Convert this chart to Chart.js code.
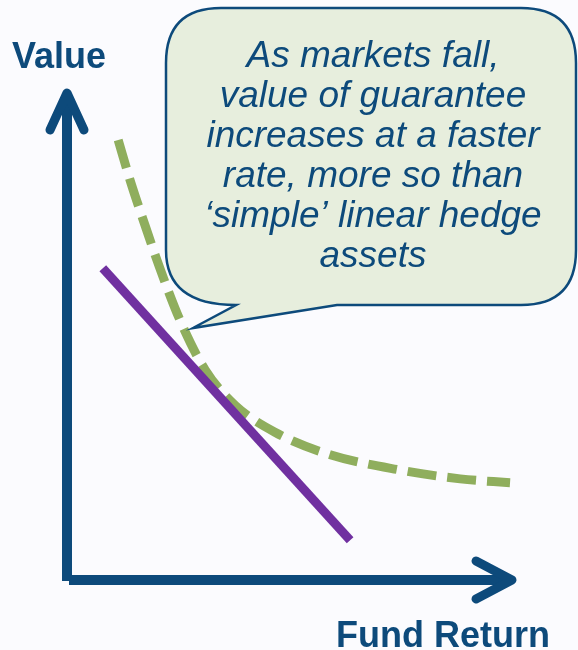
<!DOCTYPE html>
<html>
<head>
<meta charset="utf-8">
<script src="https://cdn.jsdelivr.net/npm/chart.js@4"></script>
<style>
  html, body { margin: 0; padding: 0; background: #fbfbfe; }
  #wrap { width: 578px; height: 650px; }
</style>
</head>
<body>
<div id="wrap"><canvas id="chartHedge" width="578" height="650"></canvas></div>
<script>
// Fund return (x) vs value (y), arbitrary units 0..10
const guaranteeX = [1.13, 1.39, 1.72, 2.05, 2.49, 3.05, 3.71, 4.59, 5.81, 7.35, 8.68, 9.78];
const guaranteeY = [8.96, 8.15, 7.23, 6.35, 5.30, 4.28, 3.56, 3.01, 2.55, 2.24, 2.06, 1.98];
const hedgeX = [0.79, 6.25];
const hedgeY = [6.35, 0.81];
const axisTitles = ["Value", "Fund Return"];
const calloutLines = [
  "As markets fall,",
  "value of guarantee",
  "increases at a faster",
  "rate, more so than",
  "\u2018simple\u2019 linear hedge",
  "assets"
];

const navy = "#0d4a7b";
const toPoints = (xs, ys) => xs.map((x, i) => ({ x: x, y: ys[i] }));

// axes with arrow heads, axis titles and the speech bubble
const decor = {
  id: "decor",
  beforeDatasetsDraw(chart) {
    const ctx = chart.ctx;
    const a = chart.chartArea;
    ctx.save();
    ctx.strokeStyle = navy;
    ctx.lineWidth = 10;
    ctx.lineCap = "butt";
    ctx.beginPath();
    ctx.moveTo(a.left, a.bottom + 1);
    ctx.lineTo(a.left, a.top + 6);
    ctx.moveTo(a.left + 2, a.bottom);
    ctx.lineTo(a.right - 8, a.bottom);
    ctx.stroke();

    ctx.lineCap = "round";
    ctx.lineJoin = "round";
    ctx.lineWidth = 9;
    ctx.beginPath();
    ctx.moveTo(a.left - 17, a.top + 41);
    ctx.lineTo(a.left, a.top + 4);
    ctx.lineTo(a.left + 17, a.top + 41);
    ctx.moveTo(a.right - 44, a.bottom - 19);
    ctx.lineTo(a.right - 8, a.bottom);
    ctx.lineTo(a.right - 44, a.bottom + 19);
    ctx.stroke();

    ctx.fillStyle = navy;
    ctx.font = "bold 36px 'Liberation Sans', Arial, sans-serif";
    ctx.textAlign = "left";
    ctx.textBaseline = "alphabetic";
    ctx.fillText(axisTitles[0], 12, 68);
    ctx.fillText(axisTitles[1], 336, 647);
    ctx.restore();
  },
  afterDatasetsDraw(chart) {
    const ctx = chart.ctx;
    const l = 166, t = 8, r = 576, b = 305, rad = 55;
    ctx.save();
    ctx.beginPath();
    ctx.moveTo(l + rad, t);
    ctx.lineTo(r - rad, t);
    ctx.quadraticCurveTo(r, t, r, t + rad);
    ctx.lineTo(r, b - rad);
    ctx.quadraticCurveTo(r, b, r - rad, b);
    ctx.lineTo(337, b);
    ctx.lineTo(193, 328);
    ctx.lineTo(236, b);
    ctx.quadraticCurveTo(l, b, l, b - rad);
    ctx.lineTo(l, t + rad);
    ctx.quadraticCurveTo(l, t, l + rad, t);
    ctx.closePath();
    ctx.fillStyle = "#e7eedd";
    ctx.fill();
    ctx.strokeStyle = navy;
    ctx.lineWidth = 2.5;
    ctx.lineJoin = "miter";
    ctx.stroke();

    ctx.fillStyle = navy;
    ctx.font = "italic 37px 'Liberation Sans', Arial, sans-serif";
    ctx.textAlign = "center";
    ctx.textBaseline = "alphabetic";
    calloutLines.forEach((line, i) => ctx.fillText(line, 373, 67 + i * 40));
    ctx.restore();
  }
};

new Chart(document.getElementById("chartHedge"), {
  type: "scatter",
  data: {
    datasets: [
      {
        label: "Linear hedge",
        data: toPoints(hedgeX, hedgeY),
        showLine: true,
        borderColor: "#7030a0",
        borderWidth: 9,
        borderCapStyle: "butt",
        pointRadius: 0,
      },
      {
        label: "Guarantee",
        data: toPoints(guaranteeX, guaranteeY),
        showLine: true,
        borderColor: "#8fae5d",
        borderWidth: 9,
        borderDash: [29, 11],
        borderCapStyle: "butt",
        cubicInterpolationMode: "monotone",
        pointRadius: 0,
      },
    ],
  },
  options: {
    responsive: false,
    animation: false,
    layout: { padding: { left: 67, right: 58, top: 89, bottom: 70 } },
    plugins: { legend: { display: false }, tooltip: { enabled: false } },
    scales: {
      x: { type: "linear", min: 0, max: 10, display: false },
      y: { type: "linear", min: 0, max: 10, display: false },
    },
  },
  plugins: [decor],
});
</script>
</body>
</html>
